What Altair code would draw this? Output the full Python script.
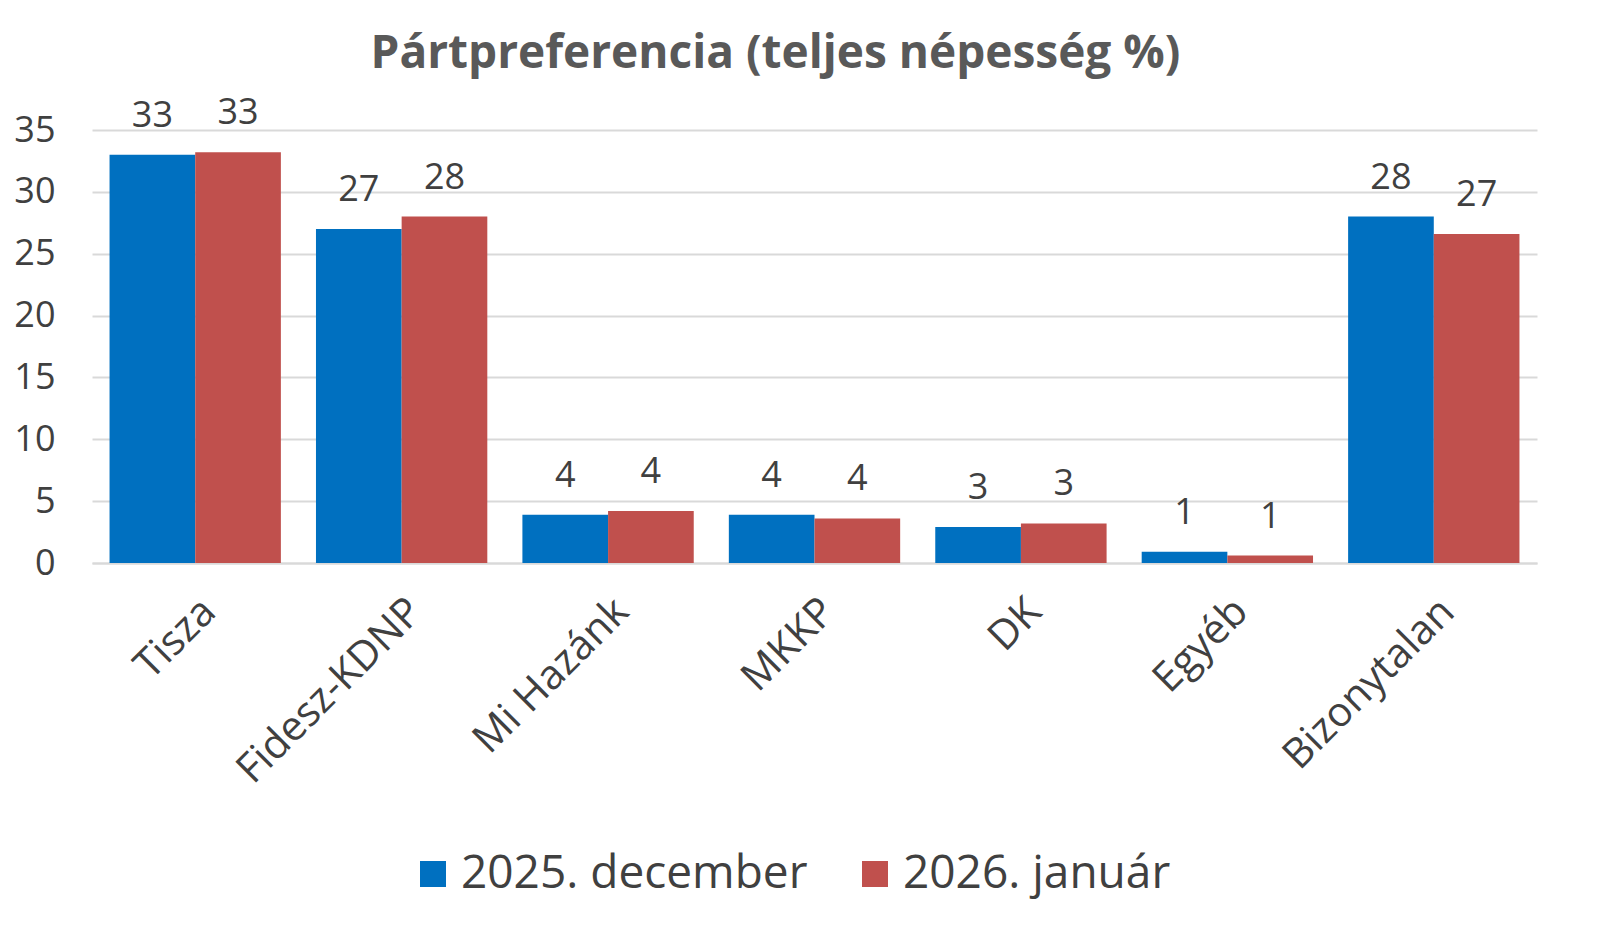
import altair as alt
import pandas as pd

categories = ["Tisza", "Fidesz-KDNP", "Mi Hazánk", "MKKP", "DK", "Egyéb", "Bizonytalan"]
series_names = ["2025. december", "2026. január"]
dec_values = [33.0, 27.0, 3.9, 3.9, 2.9, 0.9, 28.0]
jan_values = [33.2, 28.0, 4.2, 3.6, 3.2, 0.6, 26.6]
colors = ["#0070C0", "#C0504D"]

rows = []
for c, d, j in zip(categories, dec_values, jan_values):
    rows.append({"party": c, "series": series_names[0], "value": d})
    rows.append({"party": c, "series": series_names[1], "value": j})
df = pd.DataFrame(rows)

FONT = "Open Sans"
TXT = "#404040"

x = alt.X("party:N", sort=categories, title=None,
          scale=alt.Scale(paddingInner=0.17, paddingOuter=0.085),
          axis=alt.Axis(labelAngle=-45, labelFontSize=41, labelColor=TXT,
                        labelFont=FONT, ticks=False, domainColor="#d9d9d9",
                        domainWidth=2, labelPadding=28, labelLimit=0))
xo = alt.XOffset("series:N", sort=series_names)

bars = alt.Chart(df).mark_bar().encode(
    x=x, xOffset=xo,
    y=alt.Y("value:Q", title=None,
            scale=alt.Scale(domain=[0, 35]),
            axis=alt.Axis(values=[0, 5, 10, 15, 20, 25, 30, 35], labelFontSize=36,
                          labelColor=TXT, labelFont=FONT, ticks=False,
                          domain=False, gridColor="#d9d9d9", gridWidth=2,
                          labelPadding=37)),
    color=alt.Color("series:N", sort=series_names,
                    scale=alt.Scale(domain=series_names, range=colors),
                    legend=alt.Legend(orient="none", legendX=318, legendY=721,
                                      direction="horizontal", title=None,
                                      symbolType="square", symbolSize=676,
                                      symbolStrokeWidth=0, labelFontSize=46,
                                      labelColor=TXT, labelFont=FONT,
                                      labelOffset=5, columnPadding=44,
                                      labelLimit=0)),
)

labels = alt.Chart(df).mark_text(baseline="bottom", dy=-20, fontSize=36,
                                 color=TXT, font=FONT).encode(
    x=x, xOffset=xo,
    y="value:Q",
    text=alt.Text("value:Q", format=".0f"),
)

chart = alt.layer(bars, labels).properties(
    width=1445, height=433,
    padding={"top": 23, "left": 5, "right": 5, "bottom": 5},
    title=alt.Title("Pártpreferencia (teljes népesség %)", fontSize=46, font=FONT,
                    fontWeight="bold", color="#595959", offset=17,
                    frame="bounds", anchor="middle"),
).configure_view(stroke=None)

chart.save("out.html", embed_options={"renderer": "svg", "actions": False})
